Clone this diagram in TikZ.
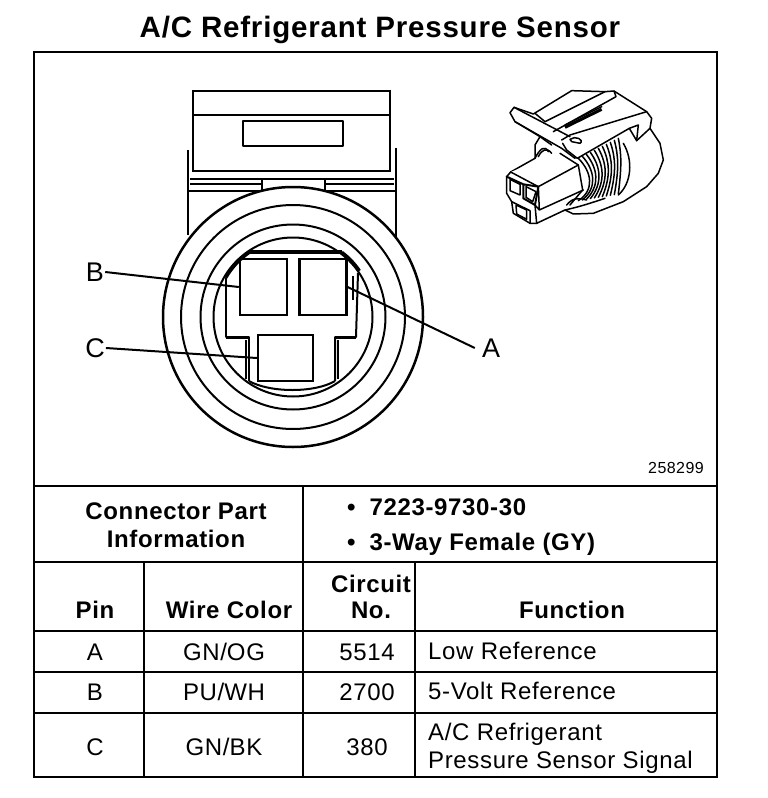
\documentclass[tikz,border=0pt]{standalone}
\usepackage{fontspec}
\setmainfont[LetterSpace=2.7]{Liberation Sans}
\usetikzlibrary{
  positioning
}

\begin{document}
\begin{tikzpicture}[
    x=1pt, y=-1pt,
    rule/.style = {line width=2.5pt},
    part/.style = {line width=2pt, line join=round},
    sketch/.style = {line width=1.5pt, line join=round, line cap=round},
    pinbox/.style = {shape=rectangle, draw, line width=2.4pt, inner sep=0pt},
    callout/.style = {font=\fontsize{27}{27}\selectfont, inner sep=1pt},
    head/.style = {font=\bfseries\fontsize{24}{24}\selectfont, anchor=base, inner sep=0pt},
    cell/.style = {font=\fontsize{24}{24}\selectfont, anchor=base, inner sep=0pt},
    func/.style = {cell, anchor=base west}]
  \useasboundingbox (0,0) rectangle (768,798);
  \node[font=\bfseries\fontsize{29.5}{29.5}\selectfont, anchor=base, inner sep=0pt] (title) at (380,37)
    {A/C Refrigerant Pressure Sensor};

  % frame and table rules
  \draw[rule] (34,52) rectangle (717,777);
  \foreach \y in {486,562,631,672,713}
    \draw[rule] (34,\y) -- (717,\y);
  \draw[rule] (303,486) -- (303,777);
  \draw[rule] (144,562) -- (144,777);
  \draw[rule] (415,562) -- (415,777);

  % housing above the ring
  \draw[line width=2.8pt] (193,172) -- (193,91) -- (390,91) -- (390,172);
  \draw[line width=2.8pt] (193,115) -- (390,115);
  \draw[part] (243,121) rectangle (343,146);
  \draw[part] (193,171) -- (390,171);
  \draw[line width=2.6pt] (190,179) -- (394,179);
  \draw[part] (188,150) -- (188,235);
  \draw[part] (396,148) -- (396,237);
  \draw[line width=2.6pt] (188,191) -- (262,191) -- (262,180);
  \draw[part] (190,184) -- (262,184);
  \draw[line width=2.6pt] (396,191) -- (325,191) -- (325,180);
  \draw[part] (394,184) -- (325,184);

  % ring
  \coordinate (ringc) at (293,317);
  \draw[line width=2.5pt, fill=white] (ringc) circle (130);
  \draw[part] (ringc) circle (112);
  \draw[part] (ringc) circle (92.5);
  \draw[part] (ringc) circle (79.5);

  % cavity
  \draw[line width=4pt] (248,252) -- (342,252);
  \draw[line width=2.6pt] (226,278) arc[start angle=210, end angle=235.3, radius=78];
  \draw[line width=2.6pt] (342,252) arc[start angle=307, end angle=326, radius=78];
  \draw[part] (226,278) -- (226,337) -- (249,337) -- (249,381);
  \draw[part] (358,273) -- (356,337) -- (335,337) -- (335,381);
  \draw[line width=3pt] (226,337) -- (249,337);
  \draw[line width=3pt] (356,337) -- (335,337);
  \draw[part] (353,276) -- (353,300);
  \draw[part] (246,340) -- (246,379);
  \draw[part] (338,340) -- (338,379);
  \draw[line width=2pt] (249,381) .. controls (270,393) and (315,393) .. (335,381);

  % cavities for the pins
  \node[pinbox, minimum width=47pt, minimum height=56pt] (pinB) at (263.5,287) {};
  \node[pinbox, minimum width=47pt, minimum height=56pt, right=10pt of pinB] (pinA) {};
  \node[pinbox, minimum width=55pt, minimum height=46pt] (pinC) at (285.5,358) {};

  \node[callout] (lblB) at (95,272) {B};
  \node[callout] (lblC) at (95,348) {C};
  \node[callout, inner sep=7pt] (lblA) at (491,348) {A};
  \draw[part] (lblB.east) -- (pinB.west);
  \draw[part] (lblC.east) -- (pinC.west);
  \draw[part] (lblA.west) -- (pinA.east);

  \node[font=\fontsize{16}{16}\selectfont, anchor=base, inner sep=0pt] (partno) at (676,473) {258299};

  % small view of the connector
  \begin{scope}[shift={(490,90)}, x=0.3333pt, y=-0.3333pt]
    \draw[sketch, fill=white] (60,68) -- (72,52) -- (130,72) -- (245,2) -- (345,5) -- (372,3) -- (470,65)
      -- (485,85) -- (480,115) -- (510,160) -- (520,210) -- (505,250) -- (470,290) -- (400,335)
      -- (310,370) -- (250,372) -- (225,360) -- (140,400) -- (120,400) -- (70,370) -- (65,335)
      -- (50,310) -- (50,260) -- (62,246) -- (135,205) -- (135,165) -- (150,140) -- (75,95) -- cycle;
    % latch
    \draw[sketch] (72,52) -- (240,140);
    \draw[sketch] (75,95) -- (215,175) -- (255,205);
    \draw[sketch] (135,70) -- (165,95) -- (345,5);
    \draw[sketch] (372,3) -- (378,20) -- (190,125);
    \draw[sketch] (215,150) -- (240,135) -- (470,65);
    \draw[sketch] (225,105) -- (335,50);
    \draw[line width=3pt] (225,112) -- (335,58);
    \draw[sketch] (240,148) .. controls (255,135) and (285,150) .. (270,160) -- (245,155) -- cycle;
    % collar
    \draw[sketch] (218,160) -- (230,180) -- (262,205) -- (418,115) -- (440,152) -- (480,115);
    \draw[sketch] (418,115) -- (445,105) -- (440,152);
    % ribs
    \foreach \i in {0,...,10}
      \draw[sketch] ({265+12*\i},{205-6*\i})
        .. controls ({305+9*\i},{245-5*\i}) and ({315+8*\i},{300-7*\i}) .. ({265+12*\i},{332-2*\i});
    \draw[sketch] (400,160) .. controls (430,210) and (425,280) .. (385,315);
    \draw[sketch] (225,360) .. controls (270,350) and (300,340) .. (345,325);
    \draw[sketch] (230,345) .. controls (250,320) and (270,325) .. (290,330);
    % tail strands on the left
    \draw[sketch] (150,140) -- (185,165);
    \draw[sketch] (135,205) .. controls (150,175) and (165,165) .. (175,185);
    \draw[sketch] (145,200) .. controls (155,180) and (170,170) .. (185,190);
    % plug body
    \draw[sketch, fill=white] (62,246) -- (145,290) -- (265,225) -- (210,190);
    \draw[sketch, fill=white] (145,290) -- (148,360) -- (135,345) (148,360) -- (280,300);
    \draw[sketch] (265,225) -- (278,300) -- (240,345);
    \draw[sketch] (135,345) -- (140,400);
    \draw[sketch, line width=2pt] (50,260) -- (100,283) -- (145,290) (100,283) -- (100,325) -- (135,345) -- (145,290);
    \draw[sketch] (60,268) -- (90,283) -- (90,315) -- (60,302) -- cycle;
    \draw[sketch] (108,290) -- (138,305) -- (128,335) -- (108,322) -- cycle;
    \draw[sketch] (65,335) -- (120,362) -- (120,400);
    \draw[sketch] (78,345) -- (110,360) -- (110,388) -- (80,372) -- cycle;
  \end{scope}

  % connector part information
  \node[head] (infoa) at (176,519) {Connector Part};
  \node[head] (infob) at (176,547) {Information};
  \node[head, anchor=base west] (parta) at (347,515) {•\hspace{14pt}7223-9730-30};
  \node[head, anchor=base west] (partb) at (347,550) {•\hspace{14pt}3-Way Female (GY)};

  % pin table
  \node[head] (hpin) at (95,618) {Pin};
  \node[head] (hwire) at (229,618) {Wire Color};
  \node[head] (hcirca) at (371,592) {Circuit};
  \node[head] (hcircb) at (371,618) {No.};
  \node[head] (hfunc) at (572,618) {Function};
  \foreach \y/\pinname/\wire/\circuit in {660/A/GN\slash OG/5514, 700/B/PU\slash WH/2700, 755/C/GN\slash BK/380} {
    \node[cell] (pin\pinname) at (95,\y) {\pinname};
    \node[cell] (wire\pinname) at (224,\y) {\wire};
    \node[cell] (circ\pinname) at (367,\y) {\circuit};
  }
  \node[func] (funcA) at (428,659) {Low Reference};
  \node[func] (funcB) at (428,699) {5-Volt Reference};
  \node[func] (funcCa) at (428,740) {A/C Refrigerant};
  \node[func] (funcCb) at (428,768) {Pressure Sensor Signal};
\end{tikzpicture}
\end{document}
